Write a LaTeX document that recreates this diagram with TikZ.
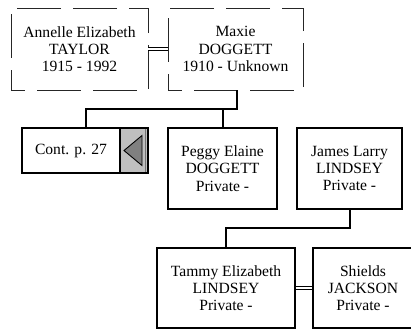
\documentclass[tikz,border=0pt]{standalone}
\usepackage{fontspec}
\setmainfont{Liberation Serif}
\begin{document}
\begin{tikzpicture}[x=1pt,y=-1pt,
  txt/.style={font=\fontsize{15.6}{17.2}\selectfont, align=center, inner sep=0pt},
  dbox/.style={txt, draw=black!85, line width=0.9pt, dash pattern=on 44pt off 12pt, dash phase=30pt},
  sbox/.style={txt, draw=black, line width=1.6pt},
  conn/.style={draw=black, line width=2pt},
  marr/.style={draw=black, line width=0.8pt, double, double distance=2.2pt}]
\useasboundingbox (0,0) rectangle (411,330);
% continuation box background
\fill[black!25] (120,128) rectangle (148,173);
\draw[black!55, line width=1pt] (145.5,129) -- (145.5,172);
% top generation
\node[dbox, minimum width=137pt, minimum height=82pt] (A) at (79.5,49) {Annelle Elizabeth\\TAYLOR\\1915 - 1992};
\node[dbox, minimum width=135pt, minimum height=82pt] (M) at (235.5,49) {Maxie\\DOGGETT\\1910 - Unknown};
% second generation
\node[sbox, minimum width=126pt, minimum height=45pt] (C) at (85,150.5) {};
\node[sbox, minimum width=109pt, minimum height=81pt] (P) at (222.5,168.5) {Peggy Elaine\\DOGGETT\\Private -};
\node[sbox, minimum width=105pt, minimum height=81pt] (J) at (349.5,168.5) {James Larry\\LINDSEY\\Private -};
% third generation
\node[sbox, minimum width=138pt, minimum height=80pt] (T) at (226,288) {Tammy Elizabeth\\LINDSEY\\Private -};
\node[sbox, minimum width=100pt, minimum height=80pt] (S) at (363,288) {Shields\\JACKSON\\Private -};
% continuation box contents
\draw[line width=1.2pt] (120,128) -- (120,173);
\node[txt] (CT) at (71,150.5) {Cont. p. 27};
\draw[fill=black!50, line width=0.9pt, line join=miter] (124,150.5) -- (142,135.5) -- (142,165.5) -- cycle;
% marriage links
\draw[marr] (A.east) -- (M.west);
\draw[marr] (P.east) -- (J.west);
\draw[marr] (T.east) -- (S.west);
% descent links
\coordinate (mj) at (237,109);
\coordinate (pj) at (223,109);
\draw[conn] (237,90) -- (mj) -| (86,128);
\draw[conn] (pj) -- (223,128);
\coordinate (jj) at (350,228);
\draw[conn] (350,209) -- (jj) -| (226,248);
\end{tikzpicture}
\end{document}
